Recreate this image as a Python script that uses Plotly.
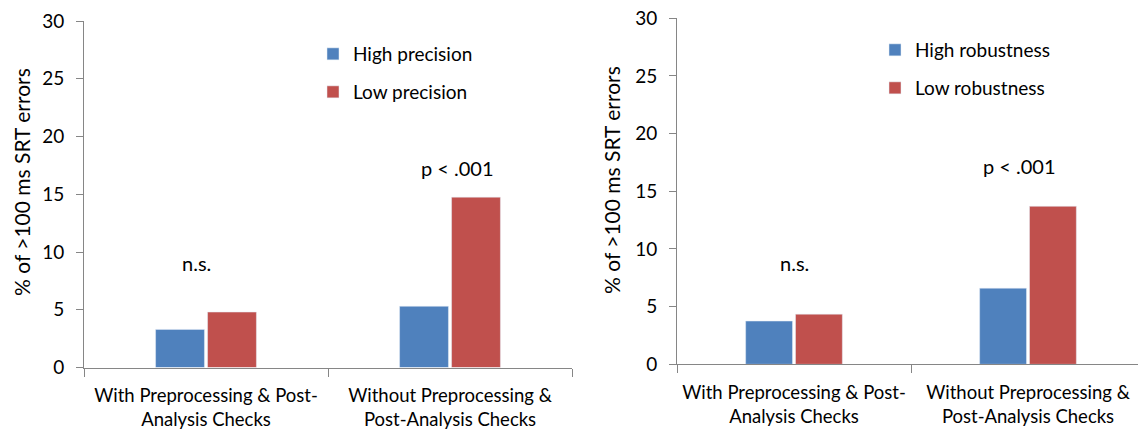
import plotly.graph_objects as go

categories = ["With Preprocessing & Post-<br>Analysis Checks",
              "Without Preprocessing &<br>Post-Analysis Checks"]
precision_high = [3.3, 5.3]
precision_low = [4.8, 14.75]
robust_high = [3.75, 6.6]
robust_low = [4.35, 13.7]
y_ticks = [0, 5, 10, 15, 20, 25, 30]

BLUE = "#4F81BD"
RED = "#C0504D"
AXIS = "#868686"
FONT = "Lato"
TXT = "#000"
W, H = 1138, 429

fig = go.Figure()
fig.add_trace(go.Bar(x=categories, y=precision_high, name="High precision",
                     marker_color=BLUE, xaxis="x", yaxis="y", legend="legend"))
fig.add_trace(go.Bar(x=categories, y=precision_low, name="Low precision",
                     marker_color=RED, xaxis="x", yaxis="y", legend="legend2"))
fig.add_trace(go.Bar(x=categories, y=robust_high, name="High robustness",
                     marker_color=BLUE, xaxis="x2", yaxis="y2", legend="legend3"))
fig.add_trace(go.Bar(x=categories, y=robust_low, name="Low robustness",
                     marker_color=RED, xaxis="x2", yaxis="y2", legend="legend4"))

def px_x(p):
    return p / W

def px_y(p):
    return 1 - p / H

xcommon = dict(type="category", showline=True, linecolor=AXIS, linewidth=1,
               ticks="outside", tickson="boundaries", ticklen=8, tickcolor=AXIS,
               tickfont=dict(family=FONT, size=18.5, color=TXT),
               ticklabelstandoff=11, showgrid=False, zeroline=False, fixedrange=True,
               automargin=False)
ycommon = dict(range=[0, 30], tickvals=y_ticks, showline=True, linecolor=AXIS, linewidth=1,
               ticks="outside", ticklen=7, tickcolor=AXIS,
               tickfont=dict(family=FONT, size=19, color=TXT),
               ticklabelstandoff=8, showgrid=False, zeroline=False, fixedrange=True,
               automargin=False)

legend_common = dict(font=dict(family=FONT, size=19, color=TXT),
                     bgcolor="rgba(0,0,0,0)", borderwidth=0,
                     xanchor="left", yanchor="middle")

fig.update_layout(
    width=W, height=H,
    margin=dict(l=0, r=0, t=0, b=0, autoexpand=False),
    paper_bgcolor="white", plot_bgcolor="white",
    barmode="group", bargap=0.574, bargroupgap=0.06,
    xaxis=dict(domain=[px_x(84), px_x(572)], range=[-0.5, 1.5], anchor="y", **xcommon),
    yaxis=dict(domain=[px_y(367.5), px_y(21)], anchor="x", **ycommon),
    xaxis2=dict(domain=[px_x(677), 1.0], range=[-0.5, 1.5 - 7 / 234], anchor="y2", **xcommon),
    yaxis2=dict(domain=[px_y(364.3), px_y(18.3)], anchor="x2", **ycommon),
    legend=dict(x=px_x(313), y=px_y(54), **legend_common),
    legend2=dict(x=px_x(313), y=px_y(92), **legend_common),
    legend3=dict(x=px_x(875), y=px_y(50), **legend_common),
    legend4=dict(x=px_x(875), y=px_y(88), **legend_common),
    showlegend=True,
)

ann_font = dict(family=FONT, size=20, color=TXT)
title_font = dict(family=FONT, size=21, color=TXT)
title_text = "% of >100 ms SRT errors"
fig.add_annotation(text=title_text, textangle=-90, xref="paper", yref="paper",
                   x=px_x(21), y=px_y(182), xanchor="center", yanchor="middle",
                   showarrow=False, font=title_font)
fig.add_annotation(text=title_text, textangle=-90, xref="paper", yref="paper",
                   x=px_x(611), y=px_y(180), xanchor="center", yanchor="middle",
                   showarrow=False, font=title_font)
fig.add_annotation(text="n.s.", xref="x", yref="y", x=categories[0], y=9.05,
                   xshift=-10, showarrow=False, font=ann_font)
fig.add_annotation(text="p < .001", xref="x", yref="y", x=categories[1], y=17.3,
                   xshift=7, showarrow=False, font=ann_font)
fig.add_annotation(text="n.s.", xref="x2", yref="y2", x=categories[0], y=8.8,
                   showarrow=False, font=ann_font)
fig.add_annotation(text="p < .001", xref="x2", yref="y2", x=categories[1], y=17.2,
                   xshift=-9, showarrow=False, font=ann_font)

fig.write_html("out.html")
